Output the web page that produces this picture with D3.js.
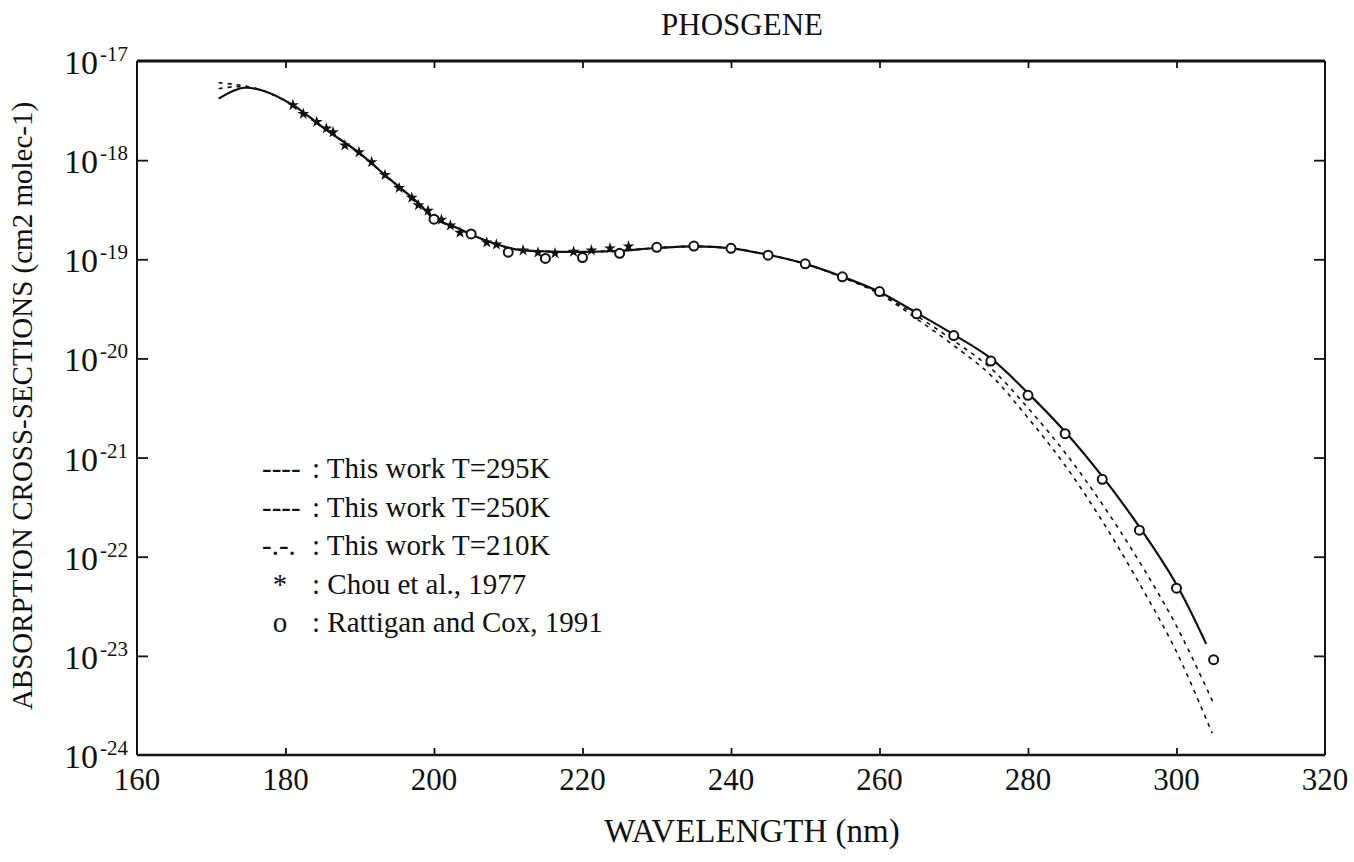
<!DOCTYPE html>
<html>
<head>
<meta charset="utf-8">
<script src="https://cdn.jsdelivr.net/npm/d3@7"></script>
<style>
  html, body { margin: 0; padding: 0; background: #fff; }
  svg { display: block; }
  text { font-family: "Liberation Serif", "DejaVu Serif", serif; fill: #111; }
</style>
</head>
<body>
<svg id="chart" width="1354" height="862"></svg>
<script>
// ---------- data (wavelength in nm, cross-section in cm2 molec-1) ----------
const wl295 = [171, 173, 174.5, 177, 181, 185.5, 190, 194, 198, 200, 203, 205, 208, 211, 215, 220, 225, 230, 235, 240, 245, 250, 255, 260, 265, 270, 275, 280, 285, 290, 295, 300, 304];
const xs295 = [4.17e-18, 5.01e-18, 5.37e-18, 5.01e-18, 3.59e-18, 2.02e-18, 1.17e-18, 6.46e-19, 3.63e-19, 2.57e-19, 2.09e-19, 1.78e-19, 1.45e-19, 1.26e-19, 1.20e-19, 1.19e-19, 1.22e-19, 1.30e-19, 1.35e-19, 1.29e-19, 1.11e-19, 9.0e-20, 6.68e-20, 4.68e-20, 2.88e-20, 1.74e-20, 1.0e-20, 4.47e-21, 1.82e-21, 6.46e-22, 2.0e-22, 5.25e-23, 1.32e-23];

const wl250 = [171, 173, 175, 177, 181, 185.5, 190, 194, 198, 200, 203, 205, 208, 211, 215, 220, 225, 230, 235, 240, 245, 250, 255, 260, 265, 270, 275, 280, 285, 290, 295, 300, 305];
const xs250 = [5.25e-18, 5.50e-18, 5.43e-18, 5.01e-18, 3.59e-18, 2.02e-18, 1.17e-18, 6.46e-19, 3.63e-19, 2.57e-19, 2.09e-19, 1.78e-19, 1.45e-19, 1.26e-19, 1.20e-19, 1.19e-19, 1.22e-19, 1.30e-19, 1.35e-19, 1.29e-19, 1.11e-19, 9.0e-20, 6.60e-20, 4.57e-20, 2.69e-20, 1.51e-20, 7.94e-21, 3.16e-21, 1.12e-21, 3.39e-22, 8.91e-23, 2.0e-23, 3.31e-24];

const wl210 = [171, 173, 175, 177, 181, 185.5, 190, 194, 198, 200, 203, 205, 208, 211, 215, 220, 225, 230, 235, 240, 245, 250, 255, 260, 265, 270, 275, 280, 285, 290, 295, 300, 304.8];
const xs210 = [6.03e-18, 5.82e-18, 5.50e-18, 5.01e-18, 3.59e-18, 2.02e-18, 1.17e-18, 6.46e-19, 3.63e-19, 2.57e-19, 2.09e-19, 1.78e-19, 1.45e-19, 1.26e-19, 1.20e-19, 1.19e-19, 1.22e-19, 1.30e-19, 1.35e-19, 1.29e-19, 1.11e-19, 9.0e-20, 6.55e-20, 4.47e-20, 2.51e-20, 1.35e-20, 6.76e-21, 2.51e-21, 8.32e-22, 2.29e-22, 5.37e-23, 1.10e-23, 1.66e-24];

const wlChou = [181.0, 182.4, 184.2, 185.5, 186.4, 188.0, 189.9, 191.6, 193.4, 195.3, 197.0, 197.9, 199.2, 201.0, 202.2, 203.5, 207.1, 208.4, 212.0, 214.0, 216.3, 218.8, 221.2, 223.7, 226.2];
const xsChou = [3.59e-18, 2.93e-18, 2.43e-18, 2.09e-18, 1.91e-18, 1.41e-18, 1.20e-18, 9.55e-19, 7.08e-19, 5.25e-19, 4.17e-19, 3.51e-19, 3.09e-19, 2.51e-19, 2.19e-19, 1.86e-19, 1.48e-19, 1.41e-19, 1.23e-19, 1.17e-19, 1.15e-19, 1.19e-19, 1.23e-19, 1.29e-19, 1.35e-19];

const wlRC = [200, 205, 210, 215, 220, 225, 230, 235, 240, 245, 250, 255, 260, 265, 270, 275, 280, 285, 290, 295, 300, 305];
const xsRC = [2.54e-19, 1.80e-19, 1.18e-19, 1.02e-19, 1.04e-19, 1.15e-19, 1.32e-19, 1.36e-19, 1.29e-19, 1.10e-19, 9.0e-20, 6.65e-20, 4.72e-20, 2.82e-20, 1.70e-20, 9.4e-21, 4.24e-21, 1.74e-21, 6.04e-22, 1.85e-22, 4.81e-23, 9.16e-24];

const xTicks = [160, 180, 200, 220, 240, 260, 280, 300, 320];
const yTickExps = [-17, -18, -19, -20, -21, -22, -23, -24];

const legendMarks = ["----", "----", "-.-.", "*", "o"];
const legendTexts = [": This work T=295K", ": This work T=250K", ": This work T=210K", ": Chou et al., 1977", ": Rattigan and Cox, 1991"];

const titleText = "PHOSGENE";
const xTitle = "WAVELENGTH (nm)";
const yTitle = "ABSORPTION CROSS-SECTIONS (cm2 molec-1)";

// ---------- layout ----------
const L = 137, R = 1325, T = 61, B = 755;
const svg = d3.select("#chart");

const x = d3.scaleLinear().domain([160, 320]).range([L, R]);
const y = d3.scaleLog().domain([1e-24, 1e-17]).range([B, T]);

// frame
svg.append("line").attr("x1", L).attr("x2", R).attr("y1", T).attr("y2", T).attr("stroke", "#111").attr("stroke-width", 3);
svg.append("line").attr("x1", L).attr("x2", R).attr("y1", B).attr("y2", B).attr("stroke", "#111").attr("stroke-width", 2.5);
svg.append("line").attr("x1", L).attr("x2", L).attr("y1", T).attr("y2", B).attr("stroke", "#111").attr("stroke-width", 2);
svg.append("line").attr("x1", R).attr("x2", R).attr("y1", T).attr("y2", B).attr("stroke", "#111").attr("stroke-width", 2);

const yTickVals = yTickExps.map(e => Math.pow(10, e));
const innerX = xTicks.filter(v => v > 160 && v < 320);
const innerY = yTickVals.filter(v => v > 1.5e-24 && v < 0.9e-17);

function styleAxis(g) {
  g.select(".domain").remove();
  g.selectAll(".tick line").attr("stroke", "#111").attr("stroke-width", 1.8);
  g.selectAll(".tick text").remove();
}

svg.append("g").attr("transform", `translate(0,${B})`)
  .call(d3.axisBottom(x).tickValues(innerX).tickSizeInner(-7).tickSizeOuter(0)).call(styleAxis);
svg.append("g").attr("transform", `translate(0,${T})`)
  .call(d3.axisTop(x).tickValues(innerX).tickSizeInner(-7).tickSizeOuter(0)).call(styleAxis);
svg.append("g").attr("transform", `translate(${L},0)`)
  .call(d3.axisLeft(y).tickValues(innerY).tickSizeInner(-11).tickSizeOuter(0)).call(styleAxis);
svg.append("g").attr("transform", `translate(${R},0)`)
  .call(d3.axisRight(y).tickValues(innerY).tickSizeInner(-11).tickSizeOuter(0)).call(styleAxis);

// x tick labels
svg.append("g").selectAll("text").data(xTicks).join("text")
  .attr("x", d => x(d)).attr("y", 790)
  .attr("text-anchor", "middle").attr("font-size", 31)
  .text(d => d);

// y tick labels with superscripts
const yl = svg.append("g").selectAll("text").data(yTickExps).join("text")
  .attr("x", 128).attr("y", d => y(Math.pow(10, d)) + 13)
  .attr("text-anchor", "end");
yl.append("tspan").attr("font-size", 34).text("10");
yl.append("tspan").attr("font-size", 21).attr("dy", -13).attr("dx", 2).text(d => String(d));

// titles
svg.append("text").attr("x", 742).attr("y", 35).attr("text-anchor", "middle")
  .attr("font-size", 31).text(titleText);
svg.append("text").attr("x", 752).attr("y", 842).attr("text-anchor", "middle")
  .attr("font-size", 33).text(xTitle);
svg.append("text").attr("transform", "translate(32,406) rotate(-90)")
  .attr("text-anchor", "middle").attr("font-size", 29).text(yTitle);

// curves
const line = d3.line().x(d => x(d[0])).y(d => y(d[1])).curve(d3.curveCatmullRom.alpha(0.5));
const zip = (a, b) => a.map((v, i) => [v, b[i]]);

svg.append("path").datum(zip(wl210, xs210)).attr("d", line)
  .attr("fill", "none").attr("stroke", "#111").attr("stroke-width", 1.6).attr("stroke-dasharray", "4,5");
svg.append("path").datum(zip(wl250, xs250)).attr("d", line)
  .attr("fill", "none").attr("stroke", "#111").attr("stroke-width", 1.6).attr("stroke-dasharray", "4,5");
svg.append("path").datum(zip(wl295, xs295)).attr("d", line)
  .attr("fill", "none").attr("stroke", "#111").attr("stroke-width", 2.2);

// Chou et al. (asterisks)
svg.append("g").selectAll("path").data(zip(wlChou, xsChou)).join("path")
  .attr("transform", d => `translate(${x(d[0])},${y(d[1])})`)
  .attr("d", d3.symbol().type(d3.symbolStar).size(44))
  .attr("fill", "#111");

// Rattigan and Cox (open circles)
svg.append("g").selectAll("circle").data(zip(wlRC, xsRC)).join("circle")
  .attr("cx", d => x(d[0])).attr("cy", d => y(d[1])).attr("r", 4.5)
  .attr("fill", "#fff").attr("stroke", "#111").attr("stroke-width", 2);

// legend (text)
const lg = svg.append("g");
const rowsY = [478, 517, 555, 594, 632];
lg.selectAll("text.mk").data(legendMarks).join("text").attr("class", "mk")
  .attr("x", (d, i) => i >= 3 ? 280 : 262).attr("y", (d, i) => rowsY[i])
  .attr("text-anchor", (d, i) => i >= 3 ? "middle" : "start")
  .attr("font-size", 29).text(d => d);
lg.selectAll("text.lt").data(legendTexts).join("text").attr("class", "lt")
  .attr("x", 312).attr("y", (d, i) => rowsY[i])
  .attr("font-size", 29).text(d => d);
</script>
</body>
</html>
